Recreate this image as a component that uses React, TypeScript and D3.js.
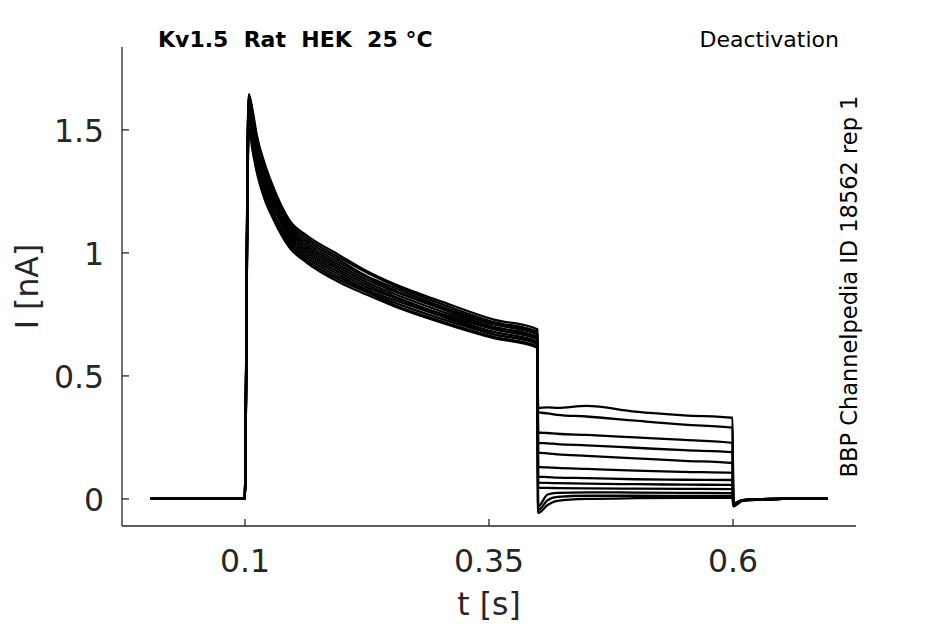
import * as d3 from "d3";
import { useEffect } from "react";

const W = 945;
const H = 624;
const PLOT = { left: 122, right: 856, top: 47, bottom: 526 };

const X_TICKS = [0.1, 0.35, 0.6];
const X_TICK_LABELS = ["0.1", "0.35", "0.6"];
const Y_TICKS = [0, 0.5, 1, 1.5];
const Y_TICK_LABELS = ["0", "0.5", "1", "1.5"];

// sample times (s) shared by every sweep
const T_S = [
	0.003, 0.05, 0.0998, 0.1008, 0.1025, 0.104, 0.108, 0.112, 0.12, 0.1287, 0.146, 0.1635, 0.197, 0.225,
	0.252, 0.303, 0.354, 0.3995, 0.4003, 0.41, 0.42, 0.45, 0.5, 0.55, 0.5995, 0.6003, 0.61, 0.65, 0.697,
];

// current (nA) per sweep
const sweep01 = [
	0, 0, 0, 0.31, 1.35, 1.645, 1.56, 1.47, 1.35, 1.26, 1.12, 1.06, 0.98, 0.92, 0.87, 0.79, 0.72, 0.68,
	0.37, 0.372, 0.37, 0.378, 0.355, 0.34, 0.33, -0.02, -0.005, 0, 0,
];
const sweep02 = [
	0, 0, 0, 0.29, 1.26, 1.55, 1.46, 1.37, 1.26, 1.17, 1.05, 0.99, 0.91, 0.85, 0.81, 0.74, 0.67, 0.635,
	0.352, 0.348, 0.342, 0.335, 0.318, 0.302, 0.29, -0.02, -0.005, 0, 0,
];
const sweep03 = [
	0, 0, 0, 0.31, 1.33, 1.63, 1.53, 1.44, 1.33, 1.23, 1.1, 1.04, 0.96, 0.9, 0.85, 0.775, 0.71, 0.67,
	0.27, 0.268, 0.265, 0.26, 0.25, 0.24, 0.228, -0.02, -0.005, 0, 0,
];
const sweep04 = [
	0, 0, 0, 0.29, 1.24, 1.52, 1.43, 1.34, 1.24, 1.15, 1.03, 0.97, 0.89, 0.84, 0.79, 0.72, 0.66, 0.62,
	0.228, 0.226, 0.223, 0.218, 0.208, 0.198, 0.19, -0.02, -0.005, 0, 0,
];
const sweep05 = [
	0, 0, 0, 0.3, 1.3, 1.6, 1.5, 1.41, 1.3, 1.21, 1.08, 1.02, 0.94, 0.88, 0.835, 0.76, 0.695, 0.655,
	0.188, 0.185, 0.181, 0.175, 0.165, 0.155, 0.146, -0.02, -0.005, 0, 0,
];
const sweep06 = [
	0, 0, 0, 0.32, 1.37, 1.64, 1.575, 1.48, 1.365, 1.27, 1.13, 1.07, 0.99, 0.925, 0.875, 0.8, 0.73, 0.69,
	0.13, 0.128, 0.126, 0.122, 0.115, 0.11, 0.106, -0.02, -0.005, 0, 0,
];
const sweep07 = [
	0, 0, 0, 0.29, 1.27, 1.57, 1.47, 1.38, 1.27, 1.19, 1.06, 1.0, 0.92, 0.86, 0.82, 0.745, 0.68, 0.64,
	0.09, 0.089, 0.087, 0.085, 0.08, 0.078, 0.077, -0.02, -0.005, 0, 0,
];
const sweep08 = [
	0, 0, 0, 0.29, 1.25, 1.54, 1.44, 1.35, 1.25, 1.16, 1.04, 0.98, 0.9, 0.845, 0.8, 0.73, 0.67, 0.63,
	0.066, 0.065, 0.064, 0.062, 0.06, 0.058, 0.057, -0.02, -0.005, 0, 0,
];
const sweep09 = [
	0, 0, 0, 0.31, 1.34, 1.62, 1.545, 1.45, 1.34, 1.245, 1.11, 1.05, 0.97, 0.905, 0.86, 0.78, 0.715, 0.675,
	0.045, 0.045, 0.044, 0.043, 0.042, 0.041, 0.04, -0.02, -0.005, 0, 0,
];
const sweep10 = [
	0, 0, 0, 0.3, 1.29, 1.58, 1.485, 1.4, 1.29, 1.2, 1.07, 1.01, 0.93, 0.87, 0.825, 0.75, 0.69, 0.65,
	-0.03, 0.018, 0.025, 0.027, 0.026, 0.025, 0.024, -0.02, -0.005, 0, 0,
];
const sweep11 = [
	0, 0, 0, 0.3, 1.31, 1.61, 1.515, 1.42, 1.31, 1.22, 1.09, 1.03, 0.95, 0.89, 0.845, 0.77, 0.7, 0.66,
	-0.045, -0.005, 0.008, 0.013, 0.013, 0.012, 0.012, -0.02, -0.005, 0, 0,
];
const sweep12 = [
	0, 0, 0, 0.28, 1.22, 1.5, 1.41, 1.33, 1.22, 1.14, 1.02, 0.96, 0.88, 0.83, 0.785, 0.715, 0.655, 0.615,
	-0.057, -0.025, -0.008, 0, 0.003, 0.004, 0.004, -0.03, -0.008, 0, 0,
];

const SWEEPS = [
	sweep01, sweep02, sweep03, sweep04, sweep05, sweep06,
	sweep07, sweep08, sweep09, sweep10, sweep11, sweep12,
];

const AXIS_COLOR = "#262626";
const FONT = "'DejaVu Sans', sans-serif";

export default function App() {
	useEffect(() => {
		document.body.style.margin = "0";
	}, []);

	const x = d3.scaleLinear().domain([-0.026, 0.726]).range([PLOT.left, PLOT.right]);
	const y = d3.scaleLinear().domain([-0.11, 1.837]).range([PLOT.bottom, PLOT.top]);

	const line = d3
		.line<number>()
		.x((_, i) => x(T_S[i]))
		.y((d) => y(d))
		.curve(d3.curveMonotoneX);

	const midY = (PLOT.top + PLOT.bottom) / 2;

	return (
		<svg width={W} height={H} style={{ display: "block", background: "#fff" }} fontFamily={FONT}>
			{SWEEPS.map((s, i) => (
				<path key={i} d={line(s) ?? ""} fill="none" stroke="#000" strokeWidth={2.3} strokeLinejoin="round" />
			))}

			{/* axes */}
			<line x1={PLOT.left} x2={PLOT.left} y1={PLOT.top} y2={PLOT.bottom} stroke={AXIS_COLOR} strokeWidth={1.3} />
			<line x1={PLOT.left} x2={PLOT.right} y1={PLOT.bottom} y2={PLOT.bottom} stroke={AXIS_COLOR} strokeWidth={1.3} />

			{X_TICKS.map((t, i) => (
				<g key={t}>
					<line x1={x(t)} x2={x(t)} y1={PLOT.bottom} y2={PLOT.bottom - 7} stroke={AXIS_COLOR} strokeWidth={1.3} />
					<text x={x(t)} y={572} textAnchor="middle" fontSize={31.5} fill={AXIS_COLOR}>
						{X_TICK_LABELS[i]}
					</text>
				</g>
			))}
			{Y_TICKS.map((v, i) => (
				<g key={v}>
					<line x1={PLOT.left} x2={PLOT.left + 7} y1={y(v)} y2={y(v)} stroke={AXIS_COLOR} strokeWidth={1.3} />
					<text x={104} y={y(v) + 12} textAnchor="end" fontSize={31.5} fill={AXIS_COLOR}>
						{Y_TICK_LABELS[i]}
					</text>
				</g>
			))}

			<text x={(PLOT.left + PLOT.right) / 2} y={615} textAnchor="middle" fontSize={31.5} fill={AXIS_COLOR}>
				t [s]
			</text>
			<text
				transform={`translate(37.5,${midY}) rotate(-90)`}
				textAnchor="middle"
				fontSize={31.5}
				fill={AXIS_COLOR}
			>
				I [nA]
			</text>

			<text x={158} y={47} fontSize={22} fontWeight="bold" fill="#000" style={{ whiteSpace: "pre" }}>
				{"Kv1.5  Rat  HEK  25 °C"}
			</text>
			<text x={839} y={47} textAnchor="end" fontSize={22} fill="#000">
				Deactivation
			</text>
			<text
				transform={`translate(857,${midY}) rotate(-90)`}
				textAnchor="middle"
				fontSize={22.5}
				fill="#000"
			>
				BBP Channelpedia ID 18562 rep 1
			</text>
		</svg>
	);
}
